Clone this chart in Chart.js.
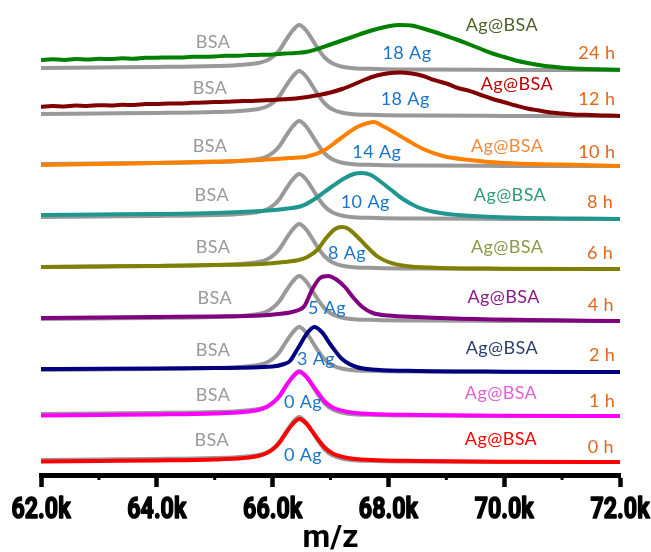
<!DOCTYPE html>
<html>
<head>
<meta charset="utf-8">
<script src="https://cdn.jsdelivr.net/npm/chart.js@4/dist/chart.umd.min.js"></script>
<style>
  html, body { margin: 0; padding: 0; background: #ffffff; }
  canvas { display: block; }
</style>
</head>
<body>
<canvas id="spectra" width="651" height="552"></canvas>
<script>
// Stacked MALDI spectra of BSA (grey) and Ag@BSA (coloured) at each reaction time.
// Intensities are arbitrary units above each trace's own baseline.

const timeLabels = ['0 h', '1 h', '2 h', '4 h', '6 h', '8 h', '10 h', '12 h', '24 h'];
const silverLabels = ['0 Ag', '0 Ag', '3 Ag', '5 Ag', '8 Ag', '10 Ag', '14 Ag', '18 Ag', '18 Ag'];
// vertical offset of each trace in the stack
const rowOffsets = [13, 59, 103, 154, 206, 256, 309, 359, 405];

// BSA reference profile, repeated in every row
const bsaMz  = [62000, 63000, 64000, 65000, 65500, 65750, 65900, 66020, 66120, 66220, 66340, 66460, 66580, 66700, 66800, 66900, 67040, 67280, 67800, 68500, 70000, 72000];
const bsaInt = [2, 2.5, 3, 4, 5.3, 7, 9.5, 14, 20, 29, 39, 45, 39.5, 29, 20, 12.5, 6.5, 2.5, 1, 0.4, 0.1, 0];

// Ag@BSA spectra
const mz0h  = [62000, 63000, 64000, 65000, 65500, 65750, 65900, 66020, 66120, 66220, 66340, 66460, 66580, 66700, 66800, 66900, 67040, 67300, 67700, 68500, 70000, 72000];
const int0h = [0.5, 1, 1.5, 2.5, 4, 6, 9, 13.5, 19.5, 28, 37.5, 43, 38.5, 29.5, 21.5, 14.5, 8.5, 4, 2, 1, 0.3, 0];

const mz1h  = [62000, 63000, 64000, 65000, 65500, 65750, 65900, 66020, 66120, 66220, 66340, 66460, 66580, 66700, 66800, 66900, 67040, 67300, 67700, 68500, 70000, 72000];
const int1h = [0.5, 1, 1.5, 2.5, 4, 6, 9, 14, 20, 29, 38.5, 44, 39.5, 30, 22, 14.5, 8.5, 4, 2, 1, 0.3, 0];

const mz2h  = [62000, 63000, 64000, 65000, 66000, 66200, 66300, 66440, 66600, 66720, 66850, 67000, 67200, 67450, 67800, 68500, 70000, 72000];
const int2h = [3, 3.2, 3.5, 4, 5.5, 8, 11, 24, 39, 45, 40, 27.5, 13, 5, 2.2, 1, 0.3, 0];

const mz4h  = [62000, 63000, 64000, 65000, 65800, 66100, 66300, 66450, 66550, 66680, 66820, 66960, 67100, 67250, 67400, 67550, 67730, 68000, 68500, 69500, 72000];
const int4h = [3, 3.5, 4, 4.5, 5.5, 7, 8.5, 11, 15, 31, 43, 45, 41.5, 34, 23, 14, 8, 5.5, 4, 2, 0];

const mz6h  = [62000, 63000, 64000, 65000, 65800, 66200, 66450, 66600, 66770, 66940, 67080, 67190, 67300, 67450, 67600, 67800, 68000, 68300, 68800, 70000, 72000];
const int6h = [2, 2.5, 3, 4, 5, 7, 9, 12, 19, 32, 40, 42, 40.5, 33, 24, 13, 7, 3, 1.2, 0.3, 0];

const mz8h  = [62000, 63000, 64000, 65000, 65800, 66200, 66500, 66700, 66990, 67250, 67400, 67540, 67700, 67850, 68050, 68250, 68500, 68800, 69200, 69800, 72000];
const int8h = [4, 4.5, 5, 6, 8, 10, 13, 19, 31, 41, 45, 46, 44, 38, 29, 20, 12, 7, 4, 2, 0];

const mz10h  = [62000, 63000, 64000, 65000, 65800, 66300, 66600, 66870, 67160, 67460, 67650, 67750, 67900, 68030, 68320, 68600, 68940, 69400, 70000, 71000, 72000];
const int10h = [1, 2, 3, 4.5, 6, 8, 9.5, 15, 27, 39, 43, 44, 40, 36, 26, 17, 10, 6, 3, 1.5, 0];

const mz12h  = [62000, 62200, 62400, 62600, 62800, 63000, 63200, 63400, 63600, 63800, 64000, 64200, 64400, 64600, 64800, 65000, 65200, 65400, 65600, 65800, 66000, 66200, 66400, 66600, 66800, 67000, 67200, 67400, 67600, 67800, 68000, 68200, 68400, 68600, 68800, 69000, 69200, 69400, 69600, 69800, 70000, 70200, 70400, 70600, 70800, 71000, 71200, 71400, 71600, 71800, 72000];
const int12h = [9.3, 10.0, 9.5, 10.4, 10.0, 10.8, 10.5, 11.2, 11.0, 11.9, 12.0, 12.5, 12.4, 13.2, 13.4, 14.0, 14.2, 14.8, 15.0, 15.6, 16.0, 16.8, 17.6, 19.0, 21.0, 23.5, 27, 31.5, 36.5, 40.5, 42.8, 43.5, 42.5, 40, 35.8, 32.5, 28, 25.2, 21, 17, 13.8, 10.5, 7.5, 5.5, 3.5, 2.5, 1.6, 1.2, 0.7, 0.4, 0];

const mz24h  = [62000, 62200, 62400, 62600, 62800, 63000, 63200, 63400, 63600, 63800, 64000, 64200, 64400, 64600, 64800, 65000, 65200, 65400, 65600, 65800, 66000, 66200, 66400, 66600, 66800, 67000, 67200, 67400, 67600, 67800, 68000, 68200, 68400, 68600, 68800, 69000, 69200, 69400, 69600, 69800, 70000, 70200, 70400, 70600, 70800, 71000, 71200, 71400, 71600, 71800, 72000];
const int24h = [10.0, 10.8, 10.1, 11.0, 10.4, 11.3, 10.9, 11.8, 11.2, 12.2, 12.3, 12.6, 12.4, 13.2, 13.3, 13.6, 14.2, 14.3, 14.9, 15.2, 15.6, 16.4, 17.0, 18.3, 21.5, 25.5, 29.5, 33.5, 37.5, 41, 43.8, 45, 44.5, 41.5, 38, 34, 30, 25.5, 21, 16.5, 13, 9.5, 7, 5, 3.4, 2.3, 1.6, 1.1, 0.7, 0.4, 0.2];

const agMz  = [mz0h, mz1h, mz2h, mz4h, mz6h, mz8h, mz10h, mz12h, mz24h];
const agInt = [int0h, int1h, int2h, int4h, int6h, int8h, int10h, int12h, int24h];

const traceColors = ['#ff0000', '#ff00ff', '#000080', '#800080', '#808000', '#1f9690', '#ff8000', '#800000', '#008000'];
const nameColors  = ['#ff0000', '#e060d8', '#2a3e6e', '#8a1a8a', '#8c9a48', '#2e9d72', '#f08a3c', '#c00000', '#4f6228'];
const bsaColor = '#999999';
const agCountColor = '#1a74c8';
const timeColor = '#e0671e';

// text positions: [m/z, height above the row baseline]
const bsaTextPos   = [[64950, 22], [64970, 21], [64970, 22], [65000, 23], [64970, 22], [64950, 24], [64920, 20], [64920, 28], [64970, 28]];
const nameTextPos  = [[69945, 23], [69945, 23], [69960, 24], [69990, 24], [70050, 22], [70100, 24], [70050, 20], [70220, 32], [69960, 45]];
const countTextPos = [[66525, 7], [66525, 14], [66750, 13], [66940, 13], [67285, 16], [67600, 17], [67800, 14], [68290, 17], [68320, 17]];
const timeTextPos  = [[71670, 15], [71690, 15], [71690, 17], [71670, 16], [71655, 16], [71655, 17], [71600, 14], [71600, 17], [71600, 17]];

function toPoints(xs, ys, offset) {
  return xs.map((x, i) => ({ x: x, y: ys[i] + offset }));
}

const datasets = [];
rowOffsets.forEach((off, r) => {
  datasets.push({
    label: 'BSA ' + timeLabels[r],
    data: toPoints(bsaMz, bsaInt, off),
    borderColor: bsaColor,
    borderWidth: 4,
    order: 2
  });
  datasets.push({
    label: 'Ag@BSA ' + timeLabels[r],
    data: toPoints(agMz[r], agInt[r], off),
    borderColor: traceColors[r],
    borderWidth: 4,
    order: 1
  });
});

const textFont = '18px Lato, "Open Sans", sans-serif';

const tracePlugin = {
  id: 'traceLabels',
  afterDatasetsDraw(chart) {
    const { ctx, scales: { x, y } } = chart;
    ctx.save();
    ctx.font = textFont;
    ctx.letterSpacing = '0.4px';
    ctx.textAlign = 'center';
    ctx.textBaseline = 'middle';
    const put = (txt, pos, off, color) => {
      ctx.fillStyle = color;
      ctx.fillText(txt, x.getPixelForValue(pos[0]), y.getPixelForValue(off + pos[1]));
    };
    rowOffsets.forEach((off, r) => {
      put('BSA', bsaTextPos[r], off, bsaColor);
      put('Ag@BSA', nameTextPos[r], off, nameColors[r]);
      put(silverLabels[r], countTextPos[r], off, agCountColor);
      put(timeLabels[r], timeTextPos[r], off, timeColor);
    });
    ctx.restore();
  }
};

// short unlabelled ticks at the odd thousands, and narrow heavy labels for the major ticks
const minorTicks = [63000, 65000, 67000, 69000, 71000];
const axisPlugin = {
  id: 'mzAxis',
  afterDraw(chart) {
    const { ctx, scales: { x } } = chart;
    ctx.save();
    ctx.strokeStyle = '#000000';
    ctx.lineWidth = 3;
    minorTicks.forEach(v => {
      const px = x.getPixelForValue(v);
      ctx.beginPath();
      ctx.moveTo(px, x.top);
      ctx.lineTo(px, x.top + 5);
      ctx.stroke();
    });
    ctx.fillStyle = '#000000';
    ctx.strokeStyle = '#000000';
    ctx.lineWidth = 1.6;
    ctx.lineJoin = 'round';
    ctx.font = 'bold 29px Roboto, sans-serif';
    ctx.textAlign = 'center';
    ctx.textBaseline = 'alphabetic';
    x.ticks.forEach(t => {
      const px = x.getPixelForValue(t.value);
      const txt = (t.value / 1000).toFixed(1) + 'k';
      ctx.save();
      ctx.translate(px, x.top + 43);
      ctx.scale(0.8, 1);
      ctx.fillText(txt, 0, 0);
      ctx.strokeText(txt, 0, 0);
      ctx.restore();
    });
    ctx.restore();
  }
};

new Chart(document.getElementById('spectra'), {
  type: 'line',
  data: { datasets: datasets },
  options: {
    responsive: false,
    animation: false,
    layout: { padding: { left: 41, right: 31, top: 0, bottom: 0 } },
    elements: {
      point: { radius: 0 },
      line: { cubicInterpolationMode: 'monotone', fill: false, borderCapStyle: 'round', borderJoinStyle: 'round' }
    },
    plugins: { legend: { display: false }, tooltip: { enabled: false } },
    scales: {
      x: {
        type: 'linear',
        min: 62000,
        max: 72000,
        afterFit(scale) {
          scale.height = 77;
          scale.paddingLeft = 0;
          scale.paddingRight = 0;
        },
        border: { display: true, color: '#000000', width: 5 },
        grid: { drawOnChartArea: false, drawTicks: true, tickLength: 12, tickWidth: 4.5, tickColor: '#000000' },
        ticks: {
          stepSize: 2000,
          autoSkip: false,
          display: false
        },
        title: {
          display: true,
          text: 'm/z',
          color: '#000000',
          padding: { top: 0, bottom: -6 },
          font: { family: 'Roboto, sans-serif', weight: 'bold', size: 32 }
        }
      },
      y: { type: 'linear', display: false, min: 0, max: 475 }
    }
  },
  plugins: [tracePlugin, axisPlugin]
});
</script>
</body>
</html>
